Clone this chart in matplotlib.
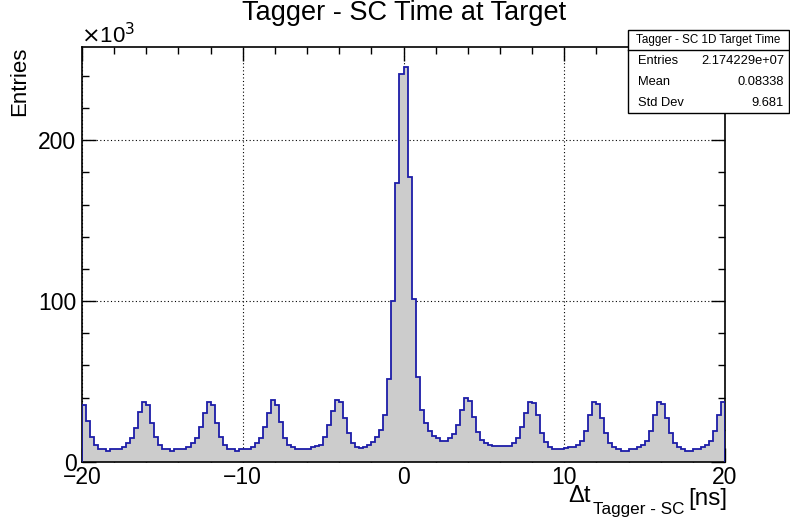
import numpy as np
import matplotlib.pyplot as plt
from matplotlib.patches import Rectangle
from matplotlib.lines import Line2D
from matplotlib.ticker import MultipleLocator

plt.rcParams['font.family'] = ['Liberation Sans', 'DejaVu Sans']

# histogram: 160 bins of 0.25 ns from -20 to 20, counts in thousands
x_lo, x_hi, n_bins = -20.0, 20.0, 160
counts_k = [
    35.4, 25.7, 15.8, 10.6, 7.9, 7.9, 7.1, 7.9, 7.9, 7.9,
    9.6, 11.6, 14.7, 20.9, 31.2, 37.4, 35.4, 24.0, 15.8, 10.6,
    7.9, 7.9, 7.1, 7.9, 7.9, 7.9, 9.2, 11.6, 14.7, 21.9,
    30.6, 37.4, 35.4, 24.0, 15.8, 10.6, 7.9, 7.9, 7.1, 7.9,
    7.9, 7.9, 9.6, 11.6, 14.7, 21.5, 30.6, 38.4, 35.4, 25.0,
    14.7, 10.6, 9.2, 7.9, 7.9, 7.9, 7.9, 9.2, 10.0, 10.6,
    15.8, 22.7, 32.0, 38.4, 37.0, 27.3, 18.0, 11.6, 9.2, 9.0,
    9.6, 10.6, 12.7, 15.4, 19.9, 29.2, 51.5, 100.0, 173.7, 241.4,
    245.5, 177.3, 101.5, 52.9, 32.3, 24.0, 19.5, 16.2, 14.7, 13.3,
    13.3, 14.7, 17.4, 23.0, 32.3, 39.5, 38.0, 28.1, 18.8, 13.7,
    12.0, 10.6, 10.0, 10.0, 10.0, 10.0, 10.0, 11.6, 14.7, 22.0,
    30.6, 37.4, 36.6, 29.2, 17.8, 12.7, 9.6, 7.9, 7.9, 7.9,
    8.5, 9.2, 9.2, 10.6, 13.3, 19.5, 29.2, 37.0, 36.3, 27.3,
    18.0, 12.0, 9.2, 7.9, 7.1, 7.1, 7.9, 7.9, 9.2, 10.6,
    13.3, 19.0, 29.2, 37.0, 36.3, 27.3, 18.0, 12.0, 9.2, 7.9,
    7.1, 7.1, 7.9, 7.9, 9.2, 10.6, 13.3, 19.5, 29.2, 37.0,
]
y_max_k = 258

stats_title = "Tagger - SC 1D Target Time"
stats_names = ["Entries", "Mean", "Std Dev"]
stats_values = ["2.174229e+07", "0.08338", "9.681"]

edges = np.linspace(x_lo, x_hi, n_bins + 1)

fig = plt.figure(figsize=(7.9, 5.18), dpi=100)
W, H = 790, 518
ax = fig.add_axes([82 / W, 1 - 462 / H, (725 - 82) / W, (462 - 47) / H])

ax.stairs(counts_k, edges, fill=True, color='#cccccc', zorder=2)
ax.stairs(counts_k, edges, color='#1c1ca8', lw=1.3, zorder=3)

ax.set_xlim(x_lo, x_hi)
ax.set_ylim(0, y_max_k)

ax.xaxis.set_major_locator(MultipleLocator(10))
ax.xaxis.set_minor_locator(MultipleLocator(2))
ax.yaxis.set_major_locator(MultipleLocator(100))
ax.yaxis.set_minor_locator(MultipleLocator(20))
ax.tick_params(which='both', direction='in', top=True, right=True,
               labelsize=16.5, width=1, colors='black')
ax.tick_params(which='major', length=10)
ax.tick_params(which='minor', length=5)
ax.tick_params(axis='x', pad=3)
ax.tick_params(axis='y', pad=4)
for s in ax.spines.values():
    s.set_linewidth(1.2)
ax.grid(True, which='major', linestyle=(0, (1, 2.2)), color='black', lw=0.8, zorder=1)
ax.set_axisbelow(True)

fig.text(404 / W, 1 - 20 / H, "Tagger - SC Time at Target", ha='center', va='baseline', fontsize=19.5)
fig.text(81 / W, 1 - 36 / H, r"$\times$10$^{3}$", ha='left', va='center', fontsize=16)
fig.text(20 / W, 1 - 47 / H, "Entries", rotation=90, ha='center', va='top', fontsize=16)

# x axis title: Δt_{Tagger - SC} [ns]
fig.text(568 / W, 1 - 501.5 / H, "\u0394t", ha='left', va='baseline', fontsize=17)
fig.text(593 / W, 1 - 514 / H, "Tagger - SC", ha='left', va='baseline', fontsize=12.3)
fig.text(727 / W, 1 - 505 / H, "[ns]", ha='right', va='baseline', fontsize=17.5)

# stats box
bx0, bx1, by0, by1, bline = 628, 789, 30, 113, 50
fig.patches.append(Rectangle((bx0 / W, 1 - by1 / H), (bx1 - bx0) / W, (by1 - by0) / H,
                             transform=fig.transFigure, facecolor='white',
                             edgecolor='black', lw=1, zorder=5))
fig.lines.append(Line2D([bx0 / W, bx1 / W], [1 - bline / H, 1 - bline / H],
                        transform=fig.transFigure, color='black', lw=1, zorder=6))
fig.text((bx0 + bx1) / 2 / W, 1 - 40 / H, stats_title, ha='center', va='center',
         fontsize=8.4, zorder=7)
for k, (name, val) in enumerate(zip(stats_names, stats_values)):
    yy = 1 - (61 + 21 * k) / H
    fig.text((bx0 + 10) / W, yy, name, ha='left', va='center', fontsize=9.3, zorder=7)
    fig.text((bx1 - 5) / W, yy, val, ha='right', va='center', fontsize=9.3, zorder=7)

fig.savefig("out.png", dpi=100)
